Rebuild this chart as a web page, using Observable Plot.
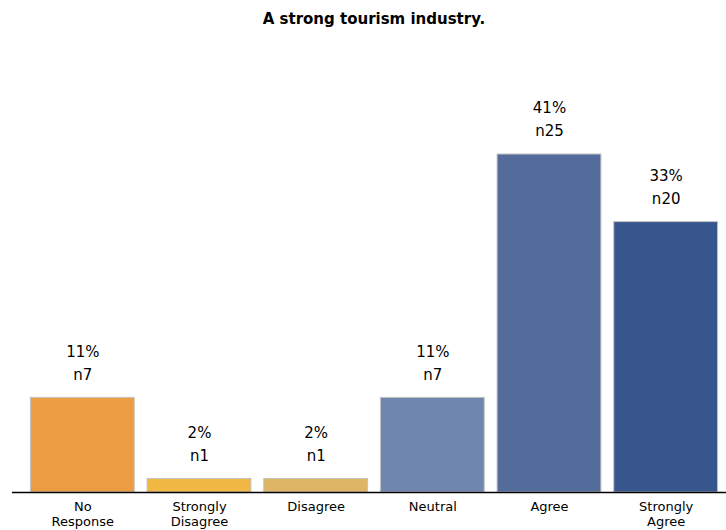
<!DOCTYPE html>
<html>
<head>
<meta charset="utf-8">
<script src="https://cdn.jsdelivr.net/npm/d3@7"></script>
<script src="https://cdn.jsdelivr.net/npm/@observablehq/plot@0.6"></script>
<style>
  body { margin: 0; background: #fff; font-family: "DejaVu Sans", sans-serif; }
  #title { height: 38px; line-height: 38px; font-weight: bold; font-size: 15px; text-align: center; padding-left: 22px; box-sizing: border-box; width: 726px; color: #000; }
</style>
</head>
<body>
<div id="title">A strong tourism industry.</div>
<div id="chart"></div>
<script>
const categories = ["No\nResponse", "Strongly\nDisagree", "Disagree", "Neutral", "Agree", "Strongly\nAgree"];
const counts = [7, 1, 1, 7, 25, 20];
const percentLabels = ["11%", "2%", "2%", "11%", "41%", "33%"];
const colors = ["#EC9C42", "#F0B842", "#DEB565", "#6F86AF", "#546C9C", "#37568D"];

const data = categories.map((c, i) => ({
  category: c,
  count: counts[i],
  pct: percentLabels[i],
  n: "n" + counts[i]
}));

const chart = Plot.plot({
  width: 726,
  height: 492,
  marginLeft: 12,
  marginRight: 0,
  marginTop: 48.4,
  marginBottom: 38,
  style: { fontFamily: "DejaVu Sans, sans-serif", fontSize: "13px", color: "#000", background: "#fff" },
  x: { domain: categories, paddingInner: 0.11, paddingOuter: 0.055, insetLeft: 12, insetRight: 2, round: false, label: null },
  y: { domain: [0, 30], axis: null },
  color: { domain: categories, range: colors },
  marks: [
    Plot.barY(data, { x: "category", y: "count", fill: "category", stroke: "#c4c4c4", strokeWidth: 1 }),
    Plot.text(data, { x: "category", y: "count", text: "n", dy: -23, lineAnchor: "middle", fontSize: 15, fill: "#000" }),
    Plot.text(data, { x: "category", y: "count", text: "pct", dy: -46, lineAnchor: "middle", fontSize: 15, fill: "#000" }),
    Plot.axisX({ tickSize: 0, tickPadding: 8, lineHeight: 1.15, fontSize: 13, label: null }),
    Plot.ruleY([0], { stroke: "#000", strokeWidth: 1.5 })
  ]
});
document.getElementById("chart").appendChild(chart);
</script>
</body>
</html>
